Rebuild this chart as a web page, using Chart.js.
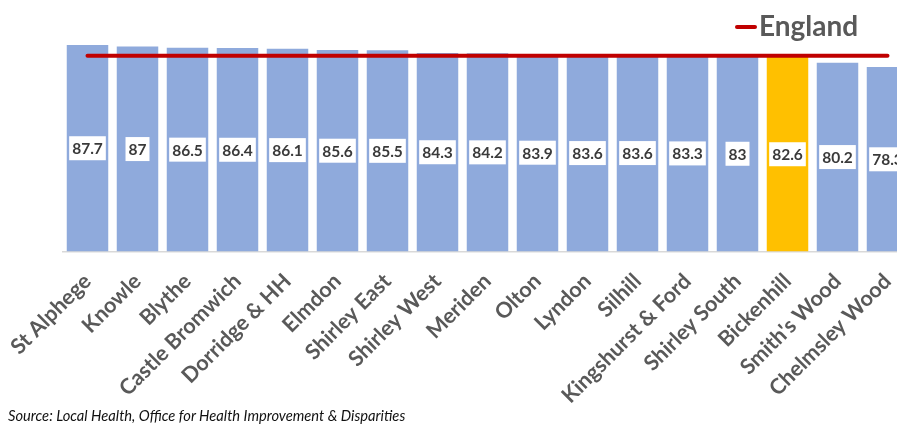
<!DOCTYPE html>
<html>
<head>
<meta charset="utf-8">
<script src="https://cdn.jsdelivr.net/npm/chart.js@4"></script>
<style>
  html, body { margin: 0; padding: 0; background: #ffffff; }
  body { width: 897px; height: 426px; overflow: hidden; position: relative; }
  #wrap { position: absolute; left: 0; top: 0; width: 920px; height: 426px; }
  #source { position: absolute; left: 8px; top: 406px; font-family: Lato, sans-serif; font-style: italic; font-size: 14.7px; line-height: 18px; color: #111111; white-space: nowrap; }
</style>
</head>
<body>
<div id="wrap"><canvas id="c" width="920" height="426"></canvas></div>
<div id="source">Source: Local Health, Office for Health Improvement &amp; Disparities</div>
<script>
const categories = ["St Alphege", "Knowle", "Blythe", "Castle Bromwich", "Dorridge & HH", "Elmdon", "Shirley East", "Shirley West", "Meriden", "Olton", "Lyndon", "Silhill", "Kingshurst & Ford", "Shirley South", "Bickenhill", "Smith's Wood", "Chelmsley Wood"];
const wardValues = [87.7, 87, 86.5, 86.4, 86.1, 85.6, 85.5, 84.3, 84.2, 83.9, 83.6, 83.6, 83.3, 83, 82.6, 80.2, 78.3];
const englandValue = 83.1;
const englandLine = categories.map(() => englandValue);
const highlightWard = "Bickenhill";

const barColour = '#8FAADC';
const highlightColour = '#FFC000';

const valueLabels = {
  id: 'valueLabels',
  afterDatasetsDraw(chart) {
    const ctx = chart.ctx;
    const meta = chart.getDatasetMeta(1);
    ctx.save();
    ctx.font = 'bold 15.5px Lato, sans-serif';
    ctx.textAlign = 'center';
    ctx.textBaseline = 'middle';
    meta.data.forEach((el, i) => {
      const txt = String(chart.data.datasets[1].data[i]);
      const w = ctx.measureText(txt).width + 6;
      const h = 24;
      const yc = (el.y + el.base) / 2;
      ctx.fillStyle = '#ffffff';
      ctx.fillRect(el.x - w / 2, yc - h / 2, w, h);
      ctx.fillStyle = '#3a3a3a';
      ctx.fillText(txt, el.x, yc + 1);
    });
    ctx.restore();
  }
};

const legendPlugin = {
  id: 'customLegend',
  afterDraw(chart) {
    const ctx = chart.ctx;
    ctx.save();
    ctx.strokeStyle = '#C00000';
    ctx.lineWidth = 4;
    ctx.lineCap = 'round';
    ctx.beginPath();
    ctx.moveTo(737, 27);
    ctx.lineTo(755, 27);
    ctx.stroke();
    ctx.font = 'bold 28px Lato, sans-serif';
    ctx.fillStyle = '#595959';
    ctx.textAlign = 'left';
    ctx.textBaseline = 'middle';
    ctx.fillText(chart.data.datasets[0].label, 759, 27);
    ctx.restore();
  }
};

new Chart(document.getElementById('c'), {
  type: 'bar',
  data: {
    labels: categories,
    datasets: [
      {
        type: 'line',
        label: 'England',
        data: englandLine,
        borderColor: '#C00000',
        borderWidth: 4,
        borderCapStyle: 'round',
        pointRadius: 0,
        fill: false,
        order: 0
      },
      {
        label: 'Life expectancy',
        data: wardValues,
        backgroundColor: categories.map(c => c === highlightWard ? highlightColour : barColour),
        barPercentage: 0.83,
        categoryPercentage: 1,
        order: 1
      }
    ]
  },
  options: {
    responsive: false,
    animation: false,
    layout: { padding: { left: 62.5, right: 7.5, top: 16, bottom: 0 } },
    plugins: { legend: { display: false }, tooltip: { enabled: false } },
    scales: {
      x: {
        grid: { display: false },
        border: { display: true, color: '#D9D9D9', width: 1.5 },
        ticks: {
          autoSkip: false,
          maxRotation: 45,
          minRotation: 45,
          padding: 9,
          color: '#595959',
          font: { family: 'Lato, sans-serif', weight: 'bold', size: 21.5 }
        },
        afterFit(scale) {
          scale.paddingLeft = 0;
          scale.paddingRight = 0;
          scale.height = 174.5;
        }
      },
      y: {
        display: false,
        min: 0,
        max: 100
      }
    }
  },
  plugins: [valueLabels, legendPlugin]
});
</script>
</body>
</html>
